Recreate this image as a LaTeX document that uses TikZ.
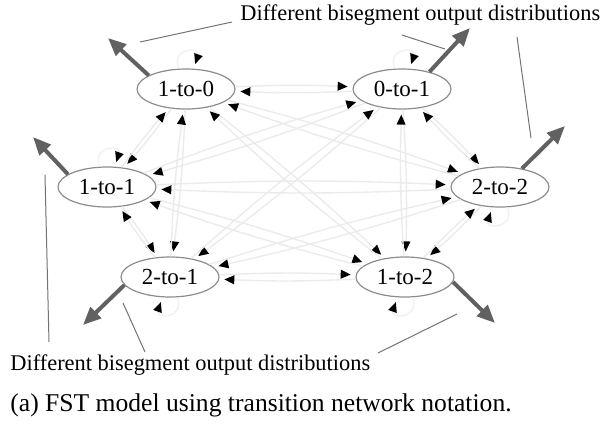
\documentclass[tikz,border=0pt]{standalone}
\usepackage{fontspec}
\setmainfont{Liberation Serif}
\usetikzlibrary{arrows.meta,shapes.geometric}
\begin{document}
\begin{tikzpicture}[x=0.5pt,y=-0.5pt,
  st/.style={ellipse,draw=black!45,line width=0.6pt,fill=white,minimum width=49pt,minimum height=20pt,inner sep=0pt,font=\fontsize{11.5}{12}\selectfont},
  tr/.style={draw=black!8,line width=0.7pt,-{Triangle[length=5pt,width=4.4pt,color=black]},shorten >=2.5pt},
  outarr/.style={draw=black!62,line width=2pt,-{Triangle[length=9pt,width=7.5pt]}},
  ann/.style={draw=black!55,line width=0.5pt},
  lbl/.style={font=\fontsize{11.2}{13}\selectfont,inner sep=0pt}]
\useasboundingbox (0,0) rectangle (601,424);
% states
\node[st] (n10) at (186,89) {1-to-0};
\node[st] (n01) at (402,89) {0-to-1};
\node[st] (n11) at (107,187) {1-to-1};
\node[st] (n22) at (500,187) {2-to-2};
\node[st] (n21) at (170,277) {2-to-1};
\node[st] (n12) at (405,277) {1-to-2};
% transitions
\foreach \a/\b in {n10/n01,n10/n11,n10/n22,n10/n21,n10/n12,
                   n01/n11,n01/n22,n01/n21,n01/n12,
                   n11/n22,n11/n21,n11/n12,
                   n22/n21,n22/n12,
                   n21/n12}{
  \draw[tr] (\a) to[bend left=2.5] (\b);
  \draw[tr] (\b) to[bend left=2.5] (\a);
}
% self loops
\draw[tr,draw=black!6] (n10) to[out=110,in=70,looseness=4] (n10);
\draw[tr,draw=black!6] (n01) to[out=110,in=70,looseness=4] (n01);
\draw[tr,draw=black!6] (n11) to[out=110,in=70,looseness=4] (n11);
\draw[tr,draw=black!6] (n22) to[out=-70,in=-110,looseness=4] (n22);
\draw[tr,draw=black!6] (n21) to[out=-70,in=-110,looseness=4] (n21);
\draw[tr,draw=black!6] (n12) to[out=-70,in=-110,looseness=4] (n12);
% output distributions
\coordinate (t10) at (108,38);
\coordinate (t01) at (470,28);
\coordinate (t11) at (33,137);
\coordinate (t22) at (565,126);
\coordinate (t21) at (83,325);
\coordinate (t12) at (495,323);
\draw[outarr] (n10.160) -- (t10);
\draw[outarr] (n01.32) -- (t01);
\draw[outarr] (n11.162) -- (t11);
\draw[outarr] (n22.40) -- (t22);
\draw[outarr] (n21.190) -- (t21);
\draw[outarr] (n12.354) -- (t12);
% annotations
\node[lbl,anchor=west] (top) at (240,15) {Different bisegment output distributions};
\node[lbl,anchor=west] (bot) at (10,365) {Different bisegment output distributions};
\node[anchor=west,inner sep=0pt,font=\fontsize{12.8}{14}\selectfont] (cap) at (10,405) {(a) FST model using transition network notation.};
\coordinate (a1s) at (232,22); \coordinate (a1e) at (140,42);
\coordinate (a2s) at (402,35); \coordinate (a2e) at (445,49);
\coordinate (a3s) at (517,37); \coordinate (a3e) at (531,138);
\coordinate (b1s) at (49,342); \coordinate (b1e) at (45,175);
\coordinate (b2s) at (145,352); \coordinate (b2e) at (123,303);
\coordinate (b3s) at (378,353); \coordinate (b3e) at (457,314);
\draw[ann] (a1s) -- (a1e);
\draw[ann] (a2s) -- (a2e);
\draw[ann] (a3s) -- (a3e);
\draw[ann] (b1s) -- (b1e);
\draw[ann] (b2s) -- (b2e);
\draw[ann] (b3s) -- (b3e);
\end{tikzpicture}
\end{document}
